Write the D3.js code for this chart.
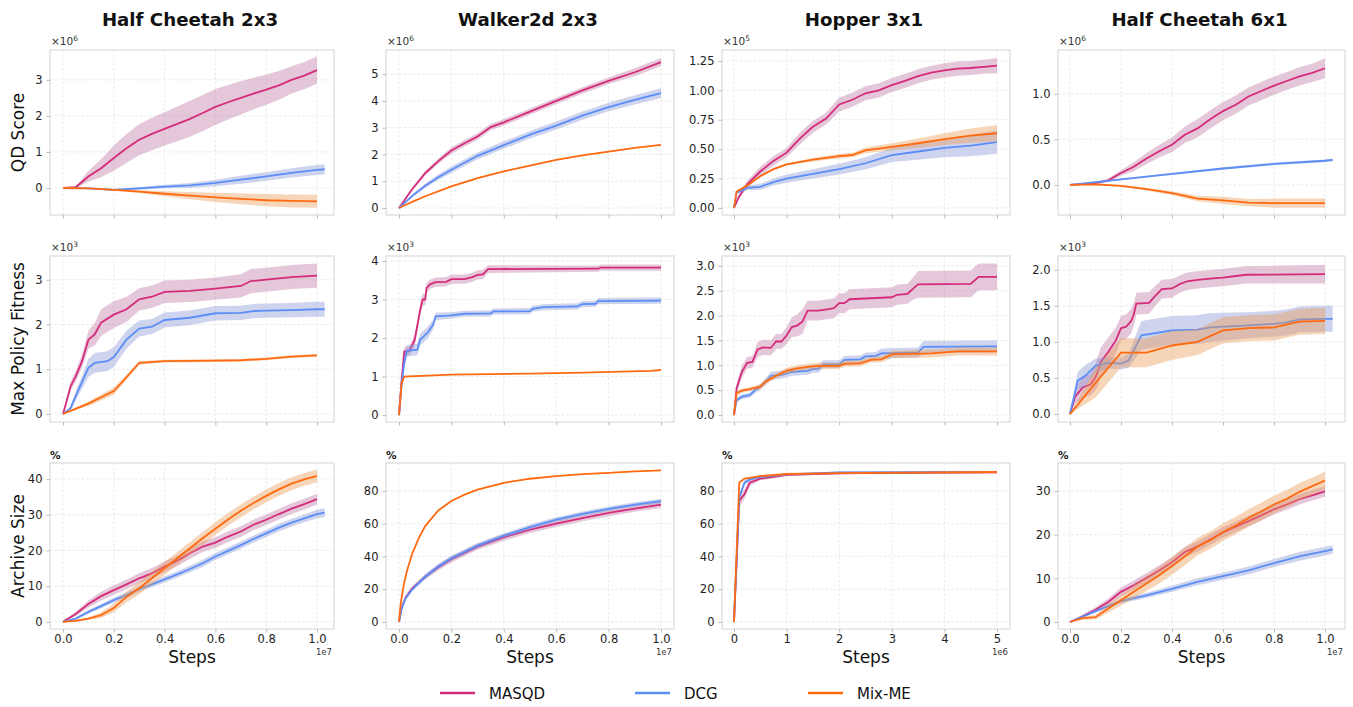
<!DOCTYPE html>
<html>
<head>
<meta charset="utf-8">
<script src="https://cdn.jsdelivr.net/npm/d3@7"></script>
<style>
  body { margin: 0; background: #fff; }
  text { font-family: "DejaVu Sans", sans-serif; }
</style>
</head>
<body>
<svg width="1353" height="707"></svg>
<script>
// each point: [steps (x1e6), mean, half band width]
// Half Cheetah 2x3 - QD score (x1e6)
var hc23QdMasqd = [[0,0,0],[0.5,0.02,0.02],[1,0.32,0.15],[1.5,0.55,0.25],[2,0.83,0.35],[2.5,1.1,0.4],[3,1.34,0.43],[3.5,1.5,0.45],[4,1.64,0.46],[4.5,1.78,0.48],[5,1.92,0.5],[5.5,2.08,0.5],[6,2.25,0.5],[6.5,2.38,0.48],[7,2.5,0.46],[7.5,2.62,0.44],[8,2.73,0.42],[8.5,2.85,0.4],[9,3.0,0.38],[9.5,3.12,0.38],[10,3.27,0.38]];
var hc23QdDcg = [[0,0,0.01],[1,-0.01,0.02],[2,-0.05,0.03],[3,-0.01,0.04],[4,0.04,0.05],[5,0.07,0.07],[6,0.14,0.09],[7,0.23,0.11],[8,0.32,0.12],[9,0.42,0.13],[10,0.5,0.14],[10.3,0.52,0.14]];
var hc23QdMix = [[0,0,0.01],[1,-0.01,0.01],[2,-0.05,0.02],[3,-0.1,0.04],[4,-0.16,0.07],[5,-0.21,0.1],[6,-0.26,0.13],[7,-0.3,0.15],[8,-0.34,0.17],[9,-0.36,0.18],[10,-0.37,0.18]];
// Walker2d 2x3 - QD score (x1e6)
var wk23QdMasqd = [[0,0,0],[0.5,0.7,0.05],[1,1.3,0.08],[1.5,1.75,0.1],[2,2.15,0.12],[2.5,2.42,0.12],[3,2.67,0.12],[3.5,3.02,0.12],[4,3.2,0.12],[5,3.6,0.12],[6,4.0,0.12],[7,4.39,0.12],[8,4.75,0.12],[9,5.07,0.15],[10,5.45,0.15]];
var wk23QdDcg = [[0,0,0],[0.5,0.45,0.05],[1,0.83,0.08],[1.5,1.15,0.1],[2,1.43,0.12],[3,1.95,0.13],[4,2.35,0.14],[5,2.74,0.14],[6,3.08,0.15],[7,3.45,0.15],[8,3.77,0.16],[9,4.04,0.17],[10,4.29,0.18]];
var wk23QdMix = [[0,0,0],[0.5,0.23,0.01],[1,0.44,0.01],[2,0.81,0.02],[3,1.12,0.02],[4,1.37,0.02],[5,1.58,0.02],[6,1.8,0.02],[7,1.97,0.02],[8,2.11,0.02],[9,2.25,0.02],[10,2.36,0.02]];
// Hopper 3x1 - QD score (x1e5), steps up to 5e6
var hp31QdMasqd = [[0,0,0],[0.1,0.1,0.02],[0.25,0.2,0.03],[0.5,0.31,0.04],[0.75,0.4,0.04],[1,0.47,0.04],[1.25,0.59,0.05],[1.5,0.69,0.05],[1.75,0.76,0.05],[2,0.88,0.06],[2.25,0.92,0.06],[2.5,0.975,0.06],[2.75,1.0,0.06],[3,1.045,0.06],[3.25,1.08,0.06],[3.5,1.12,0.06],[3.75,1.15,0.06],[4,1.17,0.06],[4.25,1.185,0.06],[4.5,1.19,0.06],[4.75,1.2,0.06],[5,1.21,0.065]];
var hp31QdDcg = [[0,0,0],[0.05,0.13,0.01],[0.25,0.17,0.02],[0.5,0.18,0.025],[0.75,0.22,0.03],[1,0.25,0.035],[1.5,0.29,0.04],[2,0.33,0.045],[2.5,0.38,0.05],[3,0.45,0.06],[3.5,0.48,0.07],[4,0.51,0.08],[4.5,0.53,0.09],[5,0.56,0.1]];
var hp31QdMix = [[0,0,0],[0.05,0.14,0.01],[0.25,0.19,0.01],[0.5,0.27,0.01],[0.75,0.33,0.01],[1,0.37,0.01],[1.5,0.41,0.015],[2,0.44,0.02],[2.25,0.45,0.02],[2.5,0.49,0.025],[3,0.52,0.03],[3.5,0.55,0.04],[4,0.585,0.05],[4.5,0.615,0.06],[5,0.635,0.07]];
// Half Cheetah 6x1 - QD score (x1e6)
var hc61QdMasqd = [[0,0,0],[1,0.02,0.01],[1.5,0.05,0.02],[2,0.13,0.03],[2.5,0.2,0.05],[3,0.29,0.06],[3.5,0.37,0.07],[4,0.44,0.08],[4.5,0.55,0.09],[5,0.62,0.1],[5.5,0.72,0.1],[6,0.81,0.1],[6.5,0.88,0.1],[7,0.97,0.1],[7.5,1.03,0.1],[8,1.09,0.1],[8.5,1.14,0.1],[9,1.19,0.1],[9.5,1.23,0.1],[10,1.28,0.11]];
var hc61QdDcg = [[0,0,0],[2,0.06,0.01],[4,0.12,0.012],[6,0.18,0.013],[8,0.23,0.015],[10,0.265,0.015],[10.3,0.275,0.015]];
var hc61QdMix = [[0,0,0],[1,0.005,0.01],[2,-0.01,0.01],[3,-0.045,0.015],[4,-0.09,0.02],[5,-0.15,0.03],[6,-0.17,0.04],[7,-0.195,0.04],[8,-0.2,0.05],[9,-0.2,0.05],[10,-0.2,0.05]];

// Max policy fitness (x1e3)
var hc23FitMasqd = [[0,0,0],[0.1,0.2,0.05],[0.3,0.62,0.1],[0.5,0.84,0.12],[0.75,1.18,0.15],[1,1.66,0.2],[1.25,1.78,0.25],[1.5,2.04,0.3],[2,2.22,0.3],[2.5,2.34,0.28],[3,2.56,0.25],[3.5,2.62,0.25],[4,2.73,0.25],[5,2.75,0.25],[6,2.8,0.25],[7,2.86,0.26],[7.4,2.97,0.27],[8,3.0,0.27],[9,3.06,0.27],[10,3.09,0.27]];
var hc23FitDcg = [[0,0,0],[0.3,0.13,0.05],[0.5,0.4,0.1],[1,1.03,0.2],[1.25,1.14,0.22],[1.75,1.18,0.22],[2,1.27,0.22],[2.5,1.66,0.2],[3,1.91,0.18],[3.5,1.95,0.17],[4,2.1,0.17],[5,2.15,0.16],[5.5,2.2,0.16],[6,2.25,0.16],[7,2.26,0.16],[7.5,2.3,0.16],[8,2.31,0.16],[9,2.32,0.16],[10,2.34,0.17],[10.3,2.34,0.17]];
var hc23FitMix = [[0,0,0],[1,0.23,0.05],[2,0.51,0.08],[2.5,0.82,0.06],[3,1.14,0.04],[4,1.18,0.03],[6,1.19,0.03],[7,1.2,0.03],[8,1.23,0.03],[9,1.28,0.03],[10,1.31,0.03]];
var wk23FitMasqd = [[0,0,0],[0.1,0.9,0.1],[0.2,1.65,0.12],[0.4,1.67,0.12],[0.6,1.95,0.15],[0.8,2.7,0.15],[0.9,3.0,0.15],[1,3.0,0.15],[1.05,3.3,0.12],[1.2,3.4,0.12],[1.4,3.45,0.12],[1.8,3.46,0.12],[2,3.53,0.12],[2.5,3.53,0.12],[2.8,3.58,0.12],[3,3.64,0.12],[3.2,3.65,0.12],[3.4,3.79,0.1],[7.6,3.8,0.08],[7.7,3.83,0.08],[10,3.83,0.08]];
var wk23FitDcg = [[0,0,0],[0.1,0.8,0.1],[0.2,1.35,0.15],[0.3,1.67,0.15],[0.7,1.7,0.15],[0.8,1.95,0.15],[1,2.08,0.15],[1.1,2.15,0.15],[1.3,2.34,0.12],[1.4,2.56,0.1],[2,2.59,0.08],[2.5,2.63,0.08],[3.5,2.64,0.08],[3.6,2.69,0.08],[5,2.7,0.08],[5.1,2.76,0.08],[5.5,2.8,0.08],[6,2.81,0.08],[6.8,2.82,0.08],[7,2.88,0.08],[7.5,2.89,0.08],[7.6,2.96,0.08],[10,2.97,0.08]];
var wk23FitMix = [[0,0,0],[0.1,0.82,0.05],[0.2,1.0,0.02],[2,1.05,0.01],[5,1.075,0.01],[7,1.1,0.01],[8.5,1.13,0.01],[9.6,1.15,0.01],[10,1.17,0.01]];
var hp31FitMasqd = [[0,0,0],[0.05,0.54,0.1],[0.15,0.87,0.12],[0.25,1.05,0.12],[0.35,1.07,0.12],[0.45,1.32,0.15],[0.55,1.36,0.15],[0.7,1.35,0.15],[0.8,1.48,0.15],[0.9,1.48,0.15],[1,1.6,0.17],[1.1,1.77,0.2],[1.2,1.8,0.22],[1.3,1.88,0.25],[1.4,2.1,0.2],[1.6,2.1,0.2],[1.8,2.13,0.2],[1.9,2.15,0.2],[2,2.25,0.2],[2.1,2.25,0.2],[2.2,2.33,0.2],[3,2.37,0.2],[3.1,2.42,0.2],[3.3,2.44,0.2],[3.4,2.54,0.22],[3.5,2.63,0.27],[4.5,2.64,0.27],[4.65,2.78,0.27],[5,2.78,0.27]];
var hp31FitDcg = [[0,0,0],[0.05,0.3,0.05],[0.15,0.37,0.05],[0.3,0.4,0.05],[0.4,0.5,0.06],[0.5,0.57,0.06],[0.6,0.67,0.07],[0.7,0.79,0.08],[0.9,0.81,0.08],[1,0.84,0.08],[1.1,0.87,0.08],[1.4,0.89,0.08],[1.5,0.93,0.08],[1.6,0.93,0.08],[1.7,1.02,0.08],[2,1.02,0.08],[2.1,1.11,0.08],[2.4,1.12,0.08],[2.5,1.18,0.08],[2.7,1.19,0.08],[2.8,1.24,0.1],[3.5,1.26,0.1],[3.6,1.37,0.12],[5,1.38,0.12]];
var hp31FitMix = [[0,0,0],[0.05,0.44,0.05],[0.15,0.49,0.04],[0.3,0.52,0.04],[0.5,0.57,0.05],[0.6,0.67,0.05],[0.8,0.79,0.05],[1,0.89,0.06],[1.2,0.94,0.06],[1.4,0.97,0.06],[1.6,0.99,0.06],[2,0.99,0.06],[2.1,1.03,0.06],[2.4,1.04,0.06],[2.6,1.11,0.06],[2.8,1.12,0.06],[3,1.22,0.07],[3.75,1.24,0.08],[4,1.26,0.08],[4.25,1.28,0.08],[5,1.28,0.08]];
var hc61FitMasqd = [[0,0,0],[0.2,0.24,0.1],[0.5,0.37,0.15],[0.8,0.41,0.15],[1,0.51,0.18],[1.1,0.6,0.2],[1.2,0.72,0.2],[1.5,0.86,0.2],[1.8,1.02,0.18],[2,1.19,0.17],[2.2,1.21,0.17],[2.4,1.29,0.17],[2.5,1.38,0.16],[2.6,1.53,0.15],[3.1,1.54,0.15],[3.3,1.62,0.14],[3.6,1.73,0.13],[4,1.74,0.13],[4.3,1.8,0.12],[4.6,1.84,0.12],[5,1.86,0.12],[5.6,1.88,0.12],[6,1.89,0.12],[6.9,1.93,0.12],[10,1.94,0.13]];
var hc61FitDcg = [[0,0,0],[0.3,0.46,0.12],[0.6,0.53,0.15],[1,0.67,0.1],[1.5,0.71,0.08],[2,0.7,0.08],[2.3,0.74,0.1],[2.8,1.09,0.2],[3.5,1.13,0.2],[4,1.16,0.2],[5,1.17,0.2],[5.5,1.2,0.2],[7,1.23,0.18],[8,1.25,0.18],[8.5,1.27,0.18],[9,1.31,0.18],[10,1.32,0.18],[10.3,1.32,0.18]];
var hc61FitMix = [[0,0,0],[1,0.43,0.2],[2,0.85,0.2],[3,0.85,0.2],[4,0.95,0.2],[5,1.0,0.18],[6,1.16,0.18],[7,1.19,0.18],[8,1.2,0.18],[9,1.28,0.18],[10,1.29,0.18]];

// Archive size (%)
var hc23ArcMasqd = [[0,0,0],[0.5,2.2,0.6],[1,5.0,1.0],[1.5,7.2,1.2],[2,8.9,1.3],[2.5,10.5,1.4],[3,12.2,1.4],[3.5,13.6,1.5],[4,15.5,1.5],[4.5,17.1,1.5],[5,19.2,1.5],[5.5,21.1,1.5],[6,22.2,1.5],[6.5,23.9,1.5],[7,25.3,1.5],[7.5,27.2,1.5],[8,28.6,1.5],[8.5,30.2,1.5],[9,31.7,1.5],[9.5,33.0,1.5],[10,34.4,1.5]];
var hc23ArcDcg = [[0,0,0],[0.5,0.9,0.3],[1,2.8,0.5],[1.5,4.4,0.6],[2,6.1,0.7],[2.5,7.5,0.8],[3,9.2,0.8],[3.5,10.5,0.8],[4,11.9,0.9],[4.5,13.3,0.9],[5,14.8,0.9],[5.5,16.4,1.0],[6,18.3,1.0],[6.5,19.9,1.0],[7,21.5,1.0],[7.5,23.2,1.0],[8,24.8,1.0],[8.5,26.4,1.1],[9,27.8,1.1],[9.5,29.0,1.1],[10,30.2,1.2],[10.3,30.6,1.2]];
var hc23ArcMix = [[0,0,0],[0.5,0.3,0.2],[1,0.9,0.4],[1.5,1.9,0.8],[2,3.9,1.2],[2.5,7.0,1.5],[3,9.4,1.7],[3.5,12.2,1.8],[4,15.0,1.8],[4.5,17.8,1.8],[5,20.6,1.8],[5.5,23.4,1.8],[6,26.1,1.8],[6.5,28.7,1.8],[7,31.1,1.8],[7.5,33.3,1.8],[8,35.3,1.8],[8.5,37.1,1.8],[9,38.7,1.8],[9.5,39.9,1.8],[10,40.9,1.8]];
var wk23ArcMasqd = [[0,0,0],[0.1,8.5,0.6],[0.25,14.8,1.0],[0.5,20.5,1.2],[1,27.6,1.5],[1.5,33.4,1.8],[2,38.3,2.0],[3,46.0,2.0],[4,51.6,2.0],[5,56.3,2.0],[6,60.0,2.0],[7,63.4,2.0],[8,66.5,2.0],[9,69.2,2.0],[10,71.6,2.0]];
var wk23ArcDcg = [[0,0,0],[0.1,8.0,0.6],[0.25,14.3,1.0],[0.5,19.8,1.2],[1,27.6,1.5],[1.5,33.8,1.5],[2,38.9,1.5],[3,46.6,1.5],[4,52.6,1.5],[5,57.9,1.5],[6,62.4,1.5],[7,65.9,1.5],[8,69.0,1.5],[9,71.6,1.5],[10,73.7,1.5]];
var wk23ArcMix = [[0,0,0],[0.05,9,0.3],[0.1,15,0.3],[0.2,24,0.3],[0.3,31,0.3],[0.5,41.5,0.3],[0.75,51,0.3],[1,58.5,0.3],[1.5,68,0.3],[2,73.8,0.3],[2.5,77.7,0.3],[3,80.8,0.3],[4,84.9,0.3],[5,87.4,0.3],[6,89.0,0.3],[7,90.2,0.3],[8,91.0,0.3],[9,91.9,0.3],[10,92.5,0.3]];
var hp31ArcMasqd = [[0,0,0],[0.1,74,4],[0.2,78,3],[0.3,85,2],[0.5,87.5,1],[0.75,88.5,1],[1,89.8,0.8],[2,90.7,0.6],[3,91.0,0.5],[5,91.3,0.5]];
var hp31ArcDcg = [[0,0,0],[0.1,76,2],[0.2,85,1.5],[0.3,87,1],[0.5,88.5,0.8],[1,90.0,0.6],[2,91.3,0.5],[5,91.5,0.5]];
var hp31ArcMix = [[0,0,0],[0.1,85,0.5],[0.2,87.5,0.4],[0.5,89,0.3],[1,90.3,0.3],[2,90.8,0.3],[5,91.5,0.3]];
var hc61ArcMasqd = [[0,0,0],[0.5,1.3,0.4],[1,2.8,0.6],[1.5,4.6,0.8],[2,6.9,1.0],[2.5,8.4,1.1],[3,10.1,1.1],[3.5,11.8,1.2],[4,13.7,1.2],[4.5,16.0,1.2],[5,17.3,1.2],[5.5,18.9,1.2],[6,20.5,1.2],[6.5,21.8,1.2],[7,23.1,1.2],[7.5,24.4,1.2],[8,25.8,1.2],[8.5,26.9,1.2],[9,28.1,1.2],[9.5,29.0,1.2],[10,29.9,1.2]];
var hc61ArcDcg = [[0,0,0],[1,2.5,0.3],[2,4.8,0.5],[3,6.1,0.6],[4,7.6,0.7],[5,9.2,0.8],[6,10.5,0.8],[7,11.8,0.9],[8,13.5,0.9],[9,15.0,1.0],[10,16.2,1.0],[10.3,16.6,1.0]];
var hc61ArcMix = [[0,0,0],[0.5,0.9,0.3],[1,1.1,0.5],[1.5,3.1,0.9],[2,5.0,1.2],[2.5,6.9,1.5],[3,8.8,1.7],[3.5,10.7,1.9],[4,12.8,2.0],[4.5,15.0,2.0],[5,17.3,2.0],[5.5,18.7,2.0],[6,20.6,2.0],[6.5,22.1,2.0],[7,23.8,2.0],[7.5,25.3,2.0],[8,26.9,2.0],[8.5,28.2,2.0],[9,29.8,2.0],[9.5,31.1,2.0],[10,32.4,2.0]];

var envNames = ['Half Cheetah 2x3', 'Walker2d 2x3', 'Hopper 3x1', 'Half Cheetah 6x1'];
var metricNames = ['QD Score', 'Max Policy Fitness', 'Archive Size'];
var methodNames = ['MASQD', 'DCG', 'Mix-ME'];
var lineColors = ['#d62a7b', '#5b8ef6', '#ff6a10'];
var bandColors = ['#bf7aa3', '#8a96d6', '#eb9b55'];

var svg = d3.select('svg');

var cols = [
  { left: 50, right: 334, x0: 63, xEnd: 317, xMax: 10, ticks: [0, 2, 4, 6, 8, 10], fmt: d => (d / 10).toFixed(1), exp: '1e7' },
  { left: 386, right: 674, x0: 399, xEnd: 661, xMax: 10, ticks: [0, 2, 4, 6, 8, 10], fmt: d => (d / 10).toFixed(1), exp: '1e7' },
  { left: 722, right: 1010, x0: 734, xEnd: 997, xMax: 5, ticks: [0, 1, 2, 3, 4, 5], fmt: d => String(d), exp: '1e6' },
  { left: 1058, right: 1345, x0: 1070, xEnd: 1325, xMax: 10, ticks: [0, 2, 4, 6, 8, 10], fmt: d => (d / 10).toFixed(1), exp: '1e7' }
];
var rows = [{ top: 50, bottom: 215 }, { top: 256, bottom: 422 }, { top: 463, bottom: 629 }];

var panels = [
  { r: 0, c: 0, data: [hc23QdMasqd, hc23QdDcg, hc23QdMix], y: [-0.75, 3.83], ticks: [0, 1, 2, 3], fmt: d3.format('d'), off: '6' },
  { r: 0, c: 1, data: [wk23QdMasqd, wk23QdDcg, wk23QdMix], y: [-0.26, 5.9], ticks: [0, 1, 2, 3, 4, 5], fmt: d3.format('d'), off: '6' },
  { r: 0, c: 2, data: [hp31QdMasqd, hp31QdDcg, hp31QdMix], y: [-0.06, 1.343], ticks: [0, 0.25, 0.5, 0.75, 1, 1.25], fmt: d3.format('.2f'), off: '5' },
  { r: 0, c: 3, data: [hc61QdMasqd, hc61QdDcg, hc61QdMix], y: [-0.33, 1.48], ticks: [0, 0.5, 1], fmt: d3.format('.1f'), off: '6' },
  { r: 1, c: 0, data: [hc23FitMasqd, hc23FitDcg, hc23FitMix], y: [-0.18, 3.53], ticks: [0, 1, 2, 3], fmt: d3.format('d'), off: '3' },
  { r: 1, c: 1, data: [wk23FitMasqd, wk23FitDcg, wk23FitMix], y: [-0.18, 4.13], ticks: [0, 1, 2, 3, 4], fmt: d3.format('d'), off: '3' },
  { r: 1, c: 2, data: [hp31FitMasqd, hp31FitDcg, hp31FitMix], y: [-0.14, 3.2], ticks: [0, 0.5, 1, 1.5, 2, 2.5, 3], fmt: d3.format('.1f'), off: '3' },
  { r: 1, c: 3, data: [hc61FitMasqd, hc61FitDcg, hc61FitMix], y: [-0.11, 2.19], ticks: [0, 0.5, 1, 1.5, 2], fmt: d3.format('.1f'), off: '3' },
  { r: 2, c: 0, data: [hc23ArcMasqd, hc23ArcDcg, hc23ArcMix], y: [-2, 44.5], ticks: [0, 10, 20, 30, 40], fmt: d3.format('d'), off: null },
  { r: 2, c: 1, data: [wk23ArcMasqd, wk23ArcDcg, wk23ArcMix], y: [-4.3, 97], ticks: [0, 20, 40, 60, 80], fmt: d3.format('d'), off: null },
  { r: 2, c: 2, data: [hp31ArcMasqd, hp31ArcDcg, hp31ArcMix], y: [-4.3, 97], ticks: [0, 20, 40, 60, 80], fmt: d3.format('d'), off: null },
  { r: 2, c: 3, data: [hc61ArcMasqd, hc61ArcDcg, hc61ArcMix], y: [-1.6, 36.4], ticks: [0, 10, 20, 30], fmt: d3.format('d'), off: null }
];

var defs = svg.append('defs');

panels.forEach((p, i) => {
  var col = cols[p.c], row = rows[p.r];
  var perUnit = (col.xEnd - col.x0) / col.xMax;
  var x = d3.scaleLinear()
    .domain([(col.left - col.x0) / perUnit, (col.right - col.x0) / perUnit])
    .range([col.left, col.right]);
  var y = d3.scaleLinear().domain(p.y).range([row.bottom, row.top]);

  defs.append('clipPath').attr('id', 'clip' + i)
    .append('rect')
    .attr('x', col.left).attr('y', row.top)
    .attr('width', col.right - col.left).attr('height', row.bottom - row.top);

  var g = svg.append('g');

  // grid
  g.selectAll('.gx').data(col.ticks).enter().append('line')
    .attr('x1', d => x(d)).attr('x2', d => x(d))
    .attr('y1', row.top).attr('y2', row.bottom)
    .attr('stroke', '#e3e3e3').attr('stroke-dasharray', '2.5,2').attr('stroke-width', 0.8);
  g.selectAll('.gy').data(p.ticks).enter().append('line')
    .attr('x1', col.left).attr('x2', col.right)
    .attr('y1', d => y(d)).attr('y2', d => y(d))
    .attr('stroke', '#e3e3e3').attr('stroke-dasharray', '2.5,2').attr('stroke-width', 0.8);

  // bands and lines
  var plot = g.append('g').attr('clip-path', 'url(#clip' + i + ')');
  var area = d3.area().x(d => x(d[0])).y0(d => y(d[1] - d[2])).y1(d => y(d[1] + d[2]));
  var line = d3.line().x(d => x(d[0])).y(d => y(d[1]));
  p.data.forEach((s, k) => {
    plot.append('path').attr('d', area(s))
      .attr('fill', bandColors[k]).attr('fill-opacity', 0.42).attr('stroke', 'none');
    plot.append('path').attr('d', line(s))
      .attr('fill', 'none').attr('stroke', lineColors[k]).attr('stroke-width', 1.8);
  });

  // frame
  g.append('rect')
    .attr('x', col.left).attr('y', row.top)
    .attr('width', col.right - col.left).attr('height', row.bottom - row.top)
    .attr('fill', 'none').attr('stroke', '#d4d4d4').attr('stroke-width', 1);

  // y axis
  var yAxis = d3.axisLeft(y).tickValues(p.ticks).tickFormat(p.fmt).tickSize(3.5).tickPadding(4);
  var ya = g.append('g').attr('transform', 'translate(' + col.left + ',0)').call(yAxis);
  ya.select('.domain').remove();
  ya.selectAll('line').attr('stroke', '#bbb');
  ya.selectAll('text').attr('font-size', 11.5).attr('fill', '#222')
    .attr('font-family', '"DejaVu Sans", sans-serif');

  // x axis
  var xAxis = d3.axisBottom(x).tickValues(col.ticks)
    .tickFormat(p.r === 2 ? col.fmt : '').tickSize(3.5).tickPadding(2);
  var xa = g.append('g').attr('transform', 'translate(0,' + row.bottom + ')').call(xAxis);
  xa.select('.domain').remove();
  xa.selectAll('line').attr('stroke', '#bbb');
  xa.selectAll('text').attr('font-size', 11.5).attr('fill', '#222')
    .attr('font-family', '"DejaVu Sans", sans-serif');

  // multiplier label
  if (p.off) {
    var t = g.append('text').attr('x', col.left + 1).attr('y', row.top - 5)
      .attr('font-size', 10.5).attr('fill', '#333').text('\u00d710');
    t.append('tspan').attr('dy', -4.5).attr('font-size', 7.5).text(p.off);
  } else {
    g.append('text').attr('x', col.left).attr('y', row.top - 4)
      .attr('font-size', 10.5).attr('font-weight', 'bold').attr('fill', '#222').text('%');
  }

  if (p.r === 2) {
    g.append('text').attr('x', (col.left + col.right) / 2).attr('y', 663)
      .attr('text-anchor', 'middle').attr('font-size', 17).attr('fill', '#111').text('Steps');
    g.append('text').attr('x', col.right - 2).attr('y', 655)
      .attr('text-anchor', 'end').attr('font-size', 8.5).attr('fill', '#333').text(col.exp);
  }
  if (p.r === 0) {
    g.append('text').attr('x', (col.left + col.right) / 2 - 2).attr('y', 26)
      .attr('text-anchor', 'middle').attr('font-size', 18.2).attr('font-weight', 'bold')
      .attr('fill', '#111').text(envNames[p.c]);
  }
  if (p.c === 0) {
    var cy = (row.top + row.bottom) / 2;
    g.append('text').attr('transform', 'translate(24,' + cy + ') rotate(-90)')
      .attr('text-anchor', 'middle').attr('font-size', 17).attr('fill', '#111')
      .text(metricNames[p.r]);
  }
});

// legend
var legendX = [440, 635, 808];
methodNames.forEach((name, k) => {
  svg.append('line').attr('x1', legendX[k]).attr('x2', legendX[k] + 35)
    .attr('y1', 693).attr('y2', 693)
    .attr('stroke', lineColors[k]).attr('stroke-width', 2.5);
  svg.append('text').attr('x', legendX[k] + 49).attr('y', 699)
    .attr('font-size', 15).attr('fill', '#111').text(name);
});
</script>
</body>
</html>
